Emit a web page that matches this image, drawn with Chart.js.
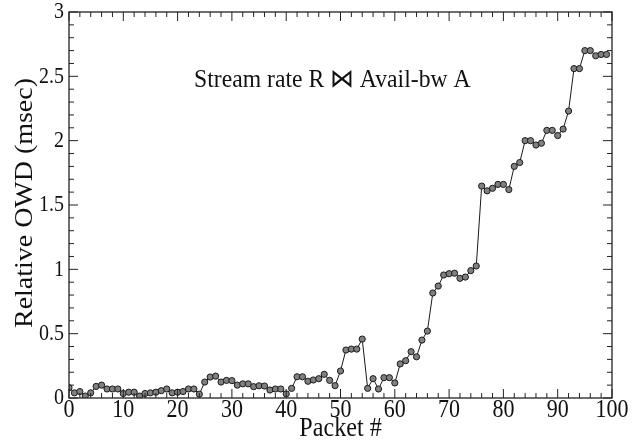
<!DOCTYPE html>
<html>
<head>
<meta charset="utf-8">
<script src="https://cdn.jsdelivr.net/npm/chart.js@4/dist/chart.umd.min.js"></script>
<style>
  html, body { margin: 0; padding: 0; background: #fff; }
  #wrap { width: 636px; height: 442px; }
</style>
</head>
<body>
<div id="wrap"><canvas id="owd-chart" width="636" height="442"></canvas></div>
<script>
// packet index 0..99 and relative one-way delay
const packets = [];
for (let i = 0; i < 100; i++) packets.push(i);

const owd = [
    0.08, 0.04, 0.05, 0.015, 0.04, 0.09, 0.10, 0.07, 0.07, 0.07,
    0.035, 0.045, 0.045, 0.015, 0.035, 0.04, 0.045, 0.057, 0.07, 0.04,
    0.045, 0.05, 0.07, 0.07, 0.03, 0.124, 0.163, 0.17, 0.124, 0.137,
    0.135, 0.10, 0.11, 0.11, 0.088, 0.095, 0.093, 0.062, 0.07, 0.07,
    0.032, 0.075, 0.165, 0.165, 0.13, 0.14, 0.15, 0.184, 0.137, 0.096,
    0.21, 0.373, 0.38, 0.38, 0.458, 0.075, 0.15, 0.07, 0.158, 0.158,
    0.117, 0.265, 0.29, 0.36, 0.32, 0.45, 0.52, 0.816, 0.87, 0.956,
    0.966, 0.97, 0.93, 0.94, 0.99, 1.026, 1.647, 1.61, 1.63, 1.66,
    1.66, 1.62, 1.80, 1.83, 2.0, 2.0, 1.966, 1.98, 2.08, 2.08,
    2.04, 2.09, 2.23, 2.56, 2.56, 2.70, 2.70, 2.66, 2.67, 2.67
];

const xTicks = [0, 10, 20, 30, 40, 50, 60, 70, 80, 90, 100];
const yTicks = [0, 0.5, 1, 1.5, 2, 2.5, 3];
const xTitle = 'Packet #';
const yTitle = 'Relative OWD (msec)';
const annotation = 'Stream rate R \u22C8 Avail-bw A';

const serif = "'Liberation Serif', 'DejaVu Serif', serif";

// the scanned figure is a bit taller than wide, so text gets a vertical stretch
function stretchedText(ctx, text, x, y, size, sx, sy, align) {
    ctx.save();
    ctx.translate(x, y);
    ctx.scale(sx, sy);
    ctx.font = size + 'px ' + serif;
    ctx.textAlign = align;
    ctx.textBaseline = 'middle';
    ctx.fillText(text, 0, 0);
    ctx.restore();
}

// inward ticks on all four sides, frame, tick labels, titles, annotation
const frameTicks = {
    id: 'frameTicks',
    afterDatasetsDraw(chart) {
        const ctx = chart.ctx;
        const a = chart.chartArea;
        const xs = chart.scales.x;
        const ys = chart.scales.y;
        ctx.save();
        ctx.strokeStyle = '#222';
        ctx.lineWidth = 1.3;
        ctx.strokeRect(a.left, a.top, a.right - a.left, a.bottom - a.top);

        ctx.lineWidth = 1;
        for (let v = 0; v <= 100; v += 2) {
            const len = v % 10 === 0 ? 9 : 5;
            const px = xs.getPixelForValue(v);
            ctx.beginPath();
            ctx.moveTo(px, a.bottom); ctx.lineTo(px, a.bottom - len);
            ctx.moveTo(px, a.top); ctx.lineTo(px, a.top + len);
            ctx.stroke();
        }
        for (let k = 0; k <= 30; k++) {
            const len = k % 5 === 0 ? 9 : 5;
            const py = ys.getPixelForValue(k / 10);
            ctx.beginPath();
            ctx.moveTo(a.left, py); ctx.lineTo(a.left + len, py);
            ctx.moveTo(a.right, py); ctx.lineTo(a.right - len, py);
            ctx.stroke();
        }

        ctx.fillStyle = '#111';
        xTicks.forEach(v => {
            stretchedText(ctx, String(v), xs.getPixelForValue(v), a.bottom + 12, 22, 1, 1.15, 'center');
        });
        yTicks.forEach(v => {
            stretchedText(ctx, String(v), a.left - 5, ys.getPixelForValue(v), 20, 1, 1.2, 'right');
        });
        stretchedText(ctx, xTitle, (a.left + a.right) / 2, 429, 23, 1.05, 1.15, 'center');

        // rotated y title, stretched along its baseline
        ctx.save();
        ctx.translate(25, 203);
        ctx.rotate(-Math.PI / 2);
        ctx.font = '25px ' + serif;
        const w = ctx.measureText(yTitle).width;
        ctx.scale(250 / w, 1);
        ctx.textAlign = 'center';
        ctx.textBaseline = 'middle';
        ctx.fillText(yTitle, 0, 0);
        ctx.restore();

        stretchedText(ctx, annotation, xs.getPixelForValue(48.5), ys.getPixelForValue(2.47), 23, 1.03, 1.12, 'center');
        ctx.restore();
    }
};

const ctx = document.getElementById('owd-chart').getContext('2d');
new Chart(ctx, {
    type: 'line',
    data: {
        labels: packets,
        datasets: [{
            label: 'Relative OWD',
            data: packets.map((p, i) => ({ x: p, y: owd[i] })),
            borderColor: '#1a1a1a',
            borderWidth: 1,
            backgroundColor: '#808080',
            pointBackgroundColor: '#808080',
            pointBorderColor: '#1a1a1a',
            pointBorderWidth: 1,
            pointRadius: 3.1,
            tension: 0
        }]
    },
    options: {
        responsive: false,
        animation: false,
        layout: { padding: { top: 12, right: 24, left: 0, bottom: 0 } },
        plugins: {
            legend: { display: false },
            tooltip: { enabled: false }
        },
        scales: {
            x: {
                type: 'linear',
                min: 0,
                max: 100,
                afterBuildTicks: s => { s.ticks = xTicks.map(v => ({ value: v })); },
                afterFit: s => { s.height = 44; },
                grid: { display: false, drawTicks: false },
                border: { display: false },
                ticks: { display: false }
            },
            y: {
                min: 0,
                max: 3,
                afterBuildTicks: s => { s.ticks = yTicks.map(v => ({ value: v })); },
                afterFit: s => { s.width = 69; },
                grid: { display: false, drawTicks: false },
                border: { display: false },
                ticks: { display: false }
            }
        }
    },
    plugins: [frameTicks]
});
</script>
</body>
</html>
